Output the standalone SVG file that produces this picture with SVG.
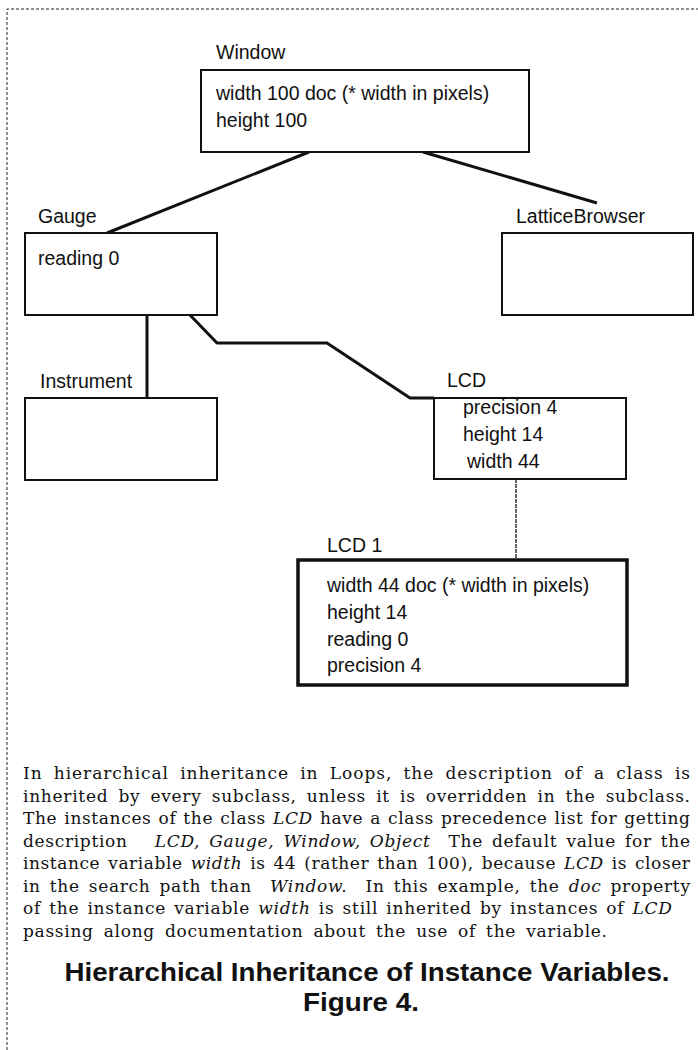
<svg xmlns="http://www.w3.org/2000/svg" width="698" height="1050" viewBox="0 0 698 1050">
<style>
.frame{fill:none;stroke:#222;stroke-width:1;stroke-dasharray:3 2}
.box{fill:#fff;stroke:#111;stroke-width:2}
.box.inst{stroke-width:3.5}
.lbl,.t{font-family:"Liberation Sans",Arial,sans-serif;font-size:19.5px;fill:#111}
.edge{fill:none;stroke:#111;stroke-width:3;stroke-linejoin:round}
.thin{fill:none;stroke:#333;stroke-width:1.5;stroke-dasharray:4 1}
.p{font-family:"DejaVu Serif","Liberation Serif",serif;font-size:17px;fill:#111;white-space:pre}
.i{font-style:italic}
.h{font-family:"Liberation Sans",Arial,sans-serif;font-weight:bold;font-size:26px;fill:#111}
</style>
<rect width="698" height="1050" fill="#fff"/>
<path class="frame" d="M7 1050 V9 H698"/>
<g id="connectors">
<path class="edge" d="M309 152 L107 233"/>
<path class="edge" d="M423 152 L597 203"/>
<path class="edge" d="M147 315 V398"/>
<path class="edge" d="M190 315 L217 343 H327 L410 398 H434"/>
<path class="thin" d="M516 479 V560"/>
</g>
<g id="window">
<text class="lbl" x="216" y="59">Window</text>
<rect class="box" x="201" y="70" width="328" height="82"/>
<text class="t" x="216" y="100">width 100 doc (* width in pixels)</text>
<text class="t" x="216" y="127">height 100</text>
</g>
<g id="gauge">
<text class="lbl" x="38" y="223">Gauge</text>
<rect class="box" x="25" y="233" width="192" height="82"/>
<text class="t" x="38" y="265">reading 0</text>
</g>
<g id="latticebrowser">
<text class="lbl" x="516" y="223">LatticeBrowser</text>
<rect class="box" x="502" y="233" width="191" height="82"/>
</g>
<g id="instrument">
<text class="lbl" x="40" y="388">Instrument</text>
<rect class="box" x="25" y="398" width="192" height="82"/>
</g>
<g id="lcd">
<text class="lbl" x="447" y="387">LCD</text>
<rect class="box" x="434" y="398" width="192" height="81"/>
<text class="t" x="463" y="414">precision 4</text>
<text class="t" x="463" y="441">height 14</text>
<text class="t" x="467" y="468">width 44</text>
</g>
<g id="lcd1">
<text class="lbl" x="327" y="552">LCD 1</text>
<rect class="box inst" x="298" y="560" width="329" height="125"/>
<text class="t" x="327" y="592">width 44 doc (* width in pixels)</text>
<text class="t" x="327" y="619">height 14</text>
<text class="t" x="327" y="646">reading 0</text>
<text class="t" x="327" y="672">precision 4</text>
</g>
<g id="caption">
<text class="p" x="23" y="779" word-spacing="5" textLength="667" lengthAdjust="spacing">In hierarchical inheritance in Loops, the description of a class is</text>
<text class="p" x="23" y="801.5" word-spacing="4" textLength="667" lengthAdjust="spacing">inherited by every subclass, unless it is overridden in the subclass.</text>
<text class="p" x="23" y="824" word-spacing="1" textLength="667" lengthAdjust="spacing">The instances of the class <tspan class="i">LCD</tspan> have a class precedence list for getting</text>
<text class="p" x="23" y="846.5" word-spacing="3" textLength="667" lengthAdjust="spacing">description   <tspan class="i">LCD, Gauge, Window, Object</tspan>  The default value for the</text>
<text class="p" x="23" y="869" word-spacing="2" textLength="667" lengthAdjust="spacing">instance variable <tspan class="i">width</tspan> is 44 (rather than 100), because <tspan class="i">LCD</tspan> is closer</text>
<text class="p" x="23" y="891.5" word-spacing="3" textLength="667" lengthAdjust="spacing">in the search path than  <tspan class="i">Window.</tspan>  In this example, the <tspan class="i">doc</tspan> property</text>
<text class="p" x="23" y="914" word-spacing="2" textLength="649" lengthAdjust="spacing">of the instance variable <tspan class="i">width</tspan> is still inherited by instances of <tspan class="i">LCD</tspan></text>
<text class="p" x="23" y="937" word-spacing="4" textLength="584" lengthAdjust="spacing">passing along documentation about the use of the variable.</text>
<text class="h" x="367" y="981" text-anchor="middle" textLength="605" lengthAdjust="spacingAndGlyphs">Hierarchical Inheritance of Instance Variables.</text>
<text class="h" x="361" y="1011" text-anchor="middle" textLength="116" lengthAdjust="spacingAndGlyphs">Figure 4.</text>
</g>
</svg>
